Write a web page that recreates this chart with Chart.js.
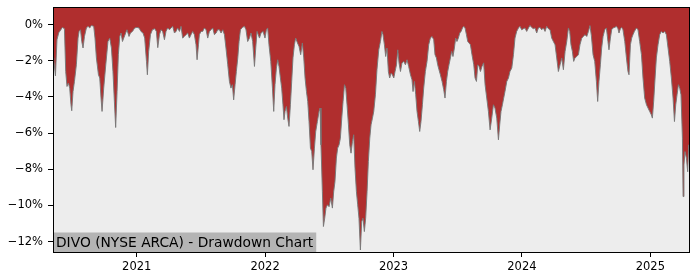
<!DOCTYPE html>
<html><head><meta charset="utf-8">
<script src="https://cdn.jsdelivr.net/npm/chart.js@4/dist/chart.umd.min.js"></script>
<style>html,body{margin:0;padding:0;background:#fff;}#wrap{width:700px;height:280px;}</style>
</head><body><div id="wrap"><canvas id="c" width="700" height="280"></canvas></div>
<script>
// Dates as decimal years
const dates = [
2020.348,2020.354,2020.367,2020.379,2020.393,2020.400,2020.421,2020.437,2020.447,2020.457,2020.468,2020.478,2020.488,2020.494,2020.504,2020.515,2020.530,2020.543,2020.551,2020.562,2020.572,2020.582,2020.593,2020.608,2020.621,2020.634,2020.647,2020.665,2020.675,2020.686,2020.702,2020.712,2020.722,2020.730,2020.743,2020.759,2020.776,2020.790,2020.803,2020.815,2020.826,2020.836,2020.847,2020.857,2020.868,2020.878,2020.889,2020.899,2020.914,2020.924,2020.940,2020.951,2020.967,2020.984,
2021.002,2021.018,2021.033,2021.049,2021.062,2021.076,2021.083,2021.093,2021.107,2021.122,2021.140,2021.153,2021.164,2021.177,2021.189,2021.202,2021.216,2021.228,2021.241,2021.255,2021.267,2021.280,2021.294,2021.306,2021.319,2021.333,2021.345,2021.358,2021.371,2021.384,2021.397,2021.410,2021.423,2021.436,2021.449,2021.462,2021.470,2021.481,2021.488,2021.501,2021.514,2021.527,2021.540,2021.553,2021.566,2021.579,2021.592,2021.605,2021.618,2021.631,2021.644,2021.657,2021.670,2021.683,2021.695,2021.709,2021.722,2021.734,2021.745,2021.755,2021.766,2021.776,2021.787,2021.797,2021.808,2021.823,2021.839,2021.851,2021.864,2021.878,2021.890,2021.903,2021.917,2021.927,2021.937,2021.956,2021.968,2021.984,2021.999,
2022.010,2022.020,2022.030,2022.044,2022.057,2022.067,2022.077,2022.088,2022.098,2022.108,2022.119,2022.129,2022.139,2022.147,2022.155,2022.166,2022.176,2022.186,2022.197,2022.207,2022.217,2022.228,2022.238,2022.252,2022.264,2022.277,2022.290,2022.301,2022.311,2022.322,2022.332,2022.342,2022.353,2022.363,2022.373,2022.384,2022.394,2022.407,2022.420,2022.428,2022.435,2022.446,2022.454,2022.464,2022.474,2022.485,2022.498,2022.511,2022.524,2022.534,2022.544,2022.555,2022.565,2022.576,2022.586,2022.597,2022.607,2022.618,2022.628,2022.638,2022.649,2022.659,2022.669,2022.680,2022.690,2022.700,2022.711,2022.721,2022.731,2022.742,2022.752,2022.762,2022.773,2022.783,2022.794,2022.804,2022.815,2022.825,2022.836,2022.846,2022.859,2022.871,2022.885,2022.898,2022.910,2022.918,2022.929,2022.939,2022.949,2022.960,2022.970,2022.981,2022.991,
2023.002,2023.012,2023.023,2023.033,2023.043,2023.054,2023.066,2023.079,2023.093,2023.105,2023.118,2023.132,2023.144,2023.152,2023.163,2023.173,2023.183,2023.194,2023.204,2023.214,2023.225,2023.235,2023.248,2023.261,2023.274,2023.287,2023.300,2023.313,2023.323,2023.334,2023.344,2023.354,2023.365,2023.378,2023.391,2023.401,2023.412,2023.422,2023.432,2023.443,2023.453,2023.463,2023.474,2023.484,2023.494,2023.505,2023.516,2023.526,2023.537,2023.547,2023.557,2023.568,2023.578,2023.588,2023.599,2023.611,2023.625,2023.635,2023.646,2023.656,2023.666,2023.677,2023.689,2023.702,2023.713,2023.726,2023.739,2023.752,2023.765,2023.778,2023.790,2023.804,2023.817,2023.827,2023.837,2023.848,2023.858,2023.868,2023.882,2023.895,2023.907,2023.921,2023.934,2023.946,2023.959,2023.973,2023.985,2023.998,
2024.012,2024.024,2024.037,2024.051,2024.063,2024.076,2024.089,2024.102,2024.115,2024.128,2024.141,2024.154,2024.167,2024.180,2024.193,2024.206,2024.219,2024.232,2024.245,2024.258,2024.271,2024.284,2024.297,2024.310,2024.323,2024.336,2024.349,2024.362,2024.372,2024.382,2024.393,2024.403,2024.413,2024.427,2024.440,2024.452,2024.466,2024.479,2024.491,2024.505,2024.518,2024.530,2024.541,2024.554,2024.567,2024.580,2024.590,2024.600,2024.611,2024.621,2024.632,2024.645,2024.658,2024.670,2024.678,2024.689,2024.699,2024.709,2024.723,2024.736,2024.748,2024.756,2024.767,2024.777,2024.787,2024.801,2024.814,2024.826,2024.834,2024.845,2024.855,2024.865,2024.876,2024.892,2024.904,2024.917,2024.931,2024.943,2024.956,2024.970,2024.982,2024.995,
2025.008,2025.016,2025.026,2025.037,2025.047,2025.060,2025.073,2025.086,2025.099,2025.112,2025.125,2025.138,2025.151,2025.164,2025.177,2025.188,2025.198,2025.208,2025.219,2025.229,2025.239,2025.250,2025.255,2025.262,2025.270,2025.281,2025.291,2025.299,2025.307
];
// Drawdown in percent
const drawdown = [
-1.83,-1.94,-2.83,-0.83,-0.44,-0.37,-0.15,-0.22,-2.59,-3.42,-3.23,-3.51,-4.43,-4.76,-3.70,-3.14,-2.22,-0.74,-0.37,-0.28,-0.93,-1.29,-0.65,-0.18,-0.09,-0.18,-0.04,-0.09,-0.74,-1.84,-2.77,-2.95,-4.06,-4.80,-3.51,-2.22,-0.93,-0.74,-1.29,-2.59,-4.25,-5.69,-3.70,-1.66,-0.65,-0.46,-0.93,-0.74,-0.46,-0.28,-0.65,-0.46,-0.37,-0.18,
-0.15,-0.18,-0.37,-0.46,-0.74,-2.03,-2.77,-1.48,-0.55,-0.28,-0.22,-0.37,-1.27,-0.55,-0.28,-0.37,-0.83,-0.37,-0.18,-0.28,-0.18,-0.09,-0.46,-0.37,-0.18,-0.37,-0.09,-0.74,-0.65,-0.55,-0.46,-0.74,-0.55,-0.37,-0.55,-1.11,-1.94,-1.11,-0.55,-0.37,-0.37,-0.18,-0.28,-0.74,-0.37,-0.28,-0.18,-0.55,-0.46,-0.28,-0.28,-0.46,-0.28,-0.55,-1.29,-2.22,-3.14,-3.51,-3.32,-4.16,-3.32,-2.59,-1.84,-0.93,-0.28,-0.15,-0.09,-0.28,-0.93,-0.74,-0.46,-0.93,-2.31,-1.29,-0.37,-0.74,-0.46,-0.37,-0.74,
-0.28,-0.18,-1.11,-2.03,-3.51,-4.80,-3.32,-2.40,-1.94,-2.31,-2.95,-3.51,-4.43,-5.26,-4.80,-4.53,-5.17,-5.63,-4.43,-3.14,-1.84,-1.11,-0.74,-1.01,-1.20,-1.66,-1.01,-1.84,-2.95,-3.70,-4.25,-5.36,-6.83,-7.02,-8.03,-6.83,-5.91,-5.36,-4.80,-4.61,-6.65,-9.24,-11.17,-10.71,-10.15,-9.97,-10.07,-9.60,-10.15,-9.24,-8.68,-7.38,-6.83,-6.65,-6.28,-5.17,-4.25,-3.32,-3.51,-4.43,-5.54,-6.65,-7.11,-6.47,-6.09,-7.94,-9.24,-9.97,-10.71,-12.47,-10.90,-10.71,-11.45,-10.71,-9.24,-7.57,-6.28,-5.54,-5.17,-4.80,-3.88,-2.49,-1.39,-0.93,-0.37,-0.55,-1.11,-1.76,-1.29,-2.59,-2.95,-2.68,-2.77,
-2.95,-2.59,-2.22,-1.39,-2.12,-2.59,-2.12,-2.03,-2.22,-1.94,-2.31,-2.77,-3.05,-3.70,-3.14,-3.88,-4.80,-5.36,-5.91,-5.36,-4.43,-3.51,-2.59,-2.03,-1.11,-0.74,-0.65,-0.83,-1.66,-1.84,-2.22,-2.49,-2.77,-3.14,-3.60,-4.06,-3.14,-2.59,-2.22,-1.84,-1.48,-1.76,-1.29,-0.74,-0.93,-0.74,-0.46,-0.37,-0.18,-0.09,-0.18,-0.55,-0.93,-1.01,-1.11,-1.66,-2.22,-2.95,-3.14,-2.22,-2.31,-2.59,-2.31,-2.11,-3.32,-4.06,-4.80,-5.82,-5.17,-4.43,-4.61,-5.17,-6.37,-5.54,-4.80,-4.43,-4.06,-3.70,-3.14,-2.95,-2.59,-2.40,-1.66,-0.74,-0.37,-0.18,-0.09,-0.28,
-0.22,-0.18,-0.37,-0.18,-0.04,-0.15,-0.22,-0.18,-0.46,-0.18,-0.15,-0.28,-0.18,-0.37,-0.09,-0.22,-0.28,-0.74,-0.93,-1.11,-1.84,-2.59,-2.22,-1.84,-2.49,-1.48,-0.93,-0.18,-0.37,-1.11,-1.48,-2.03,-1.84,-1.76,-1.66,-1.11,-0.74,-0.65,-0.55,-0.65,-0.37,-0.05,-0.61,-1.66,-2.03,-3.14,-4.25,-3.14,-2.22,-1.29,-0.65,-0.28,-0.18,-0.93,-1.39,-0.74,-0.28,-0.18,-0.15,-0.09,-0.22,-0.46,-0.22,-0.15,-0.28,-0.93,-1.84,-2.59,-2.77,-1.11,-0.74,-0.55,-0.37,-0.18,-0.28,-0.93,-1.66,-2.95,-4.06,-4.43,-4.61,-4.80,
-4.99,-5.17,-4.25,-2.95,-1.84,-1.11,-0.55,-0.37,-0.46,-0.37,-0.55,-1.29,-2.03,-2.95,-4.06,-5.36,-4.43,-3.88,-3.32,-3.51,-3.88,-6.28,-9.51,-7.76,-7.02,-7.38,-8.14,-6.65,-6.81
];
const yearTicks = [2021, 2022, 2023, 2024, 2025];
const pctTicks = [-12, -10, -8, -6, -4, -2, 0];
const chartLabel = 'DIVO (NYSE ARCA) - Drawdown Chart';

const FONT = 'DejaVu Sans';

const bgPlugin = {
  id: 'bg',
  beforeDraw(chart) {
    const {ctx, chartArea: a} = chart;
    ctx.save();
    ctx.fillStyle = '#ededed';
    ctx.fillRect(a.left, a.top, a.right - a.left, a.bottom - a.top);
    ctx.restore();
  },
  afterDatasetsDraw(chart) {
    const {ctx, chartArea: a} = chart;
    ctx.save();
    ctx.font = '13.8px "' + FONT + '"';
    const w = ctx.measureText(chartLabel).width;
    ctx.fillStyle = '#b4b4b4';
    ctx.fillRect(a.left, a.bottom - 19.5, w + 6, 19.5);
    ctx.fillStyle = '#000';
    ctx.textBaseline = 'alphabetic';
    ctx.fillText(chartLabel, a.left + 3, a.bottom - 4.8);
    ctx.strokeStyle = '#000';
    ctx.lineWidth = 1;
    ctx.strokeRect(Math.round(a.left) + 0.5, Math.round(a.top) + 0.5,
      Math.round(a.right - a.left) - 1, Math.round(a.bottom - a.top));
    ctx.restore();
  }
};

new Chart(document.getElementById('c'), {
  type: 'line',
  data: {
    datasets: [{
      data: dates.map((d, i) => ({x: d, y: drawdown[i]})),
      fill: 'end',
      backgroundColor: '#b02e2e',
      borderColor: 'rgba(120,120,120,0.95)',
      borderWidth: 1,
      pointRadius: 0,
      tension: 0
    }]
  },
  options: {
    responsive: false,
    animation: false,
    devicePixelRatio: 1,
    layout: {padding: {top: 7, right: 10, left: 0, bottom: 0}},
    plugins: {legend: {display: false}, tooltip: {enabled: false}},
    scales: {
      x: {
        type: 'linear',
        min: 2020.348, max: 2025.309,
        afterBuildTicks: s => { s.ticks = yearTicks.map(v => ({value: v})); },
        afterFit: s => { s.height = 28; s.paddingLeft = 0; s.paddingRight = 0; },
        grid: {drawOnChartArea: false, drawTicks: true, tickLength: 5, color: '#000'},
        border: {display: false},
        ticks: {
          autoSkip: false, maxRotation: 0, padding: 3, color: '#000',
          font: {family: FONT, size: 11.5},
          callback: v => String(v)
        }
      },
      y: {
        min: -12.58, max: 0.98,
        afterBuildTicks: s => { s.ticks = pctTicks.map(v => ({value: v})); },
        afterFit: s => { s.width = 53; s.paddingTop = 0; s.paddingBottom = 0; },
        grid: {drawOnChartArea: false, drawTicks: true, tickLength: 5, color: '#000'},
        border: {display: false},
        ticks: {
          autoSkip: false, padding: 5, color: '#000',
          font: {family: FONT, size: 11.5},
          callback: v => v === 0 ? '0%' : '\u2212' + Math.abs(v) + '%'
        }
      }
    }
  },
  plugins: [bgPlugin]
});
</script>
</body></html>
